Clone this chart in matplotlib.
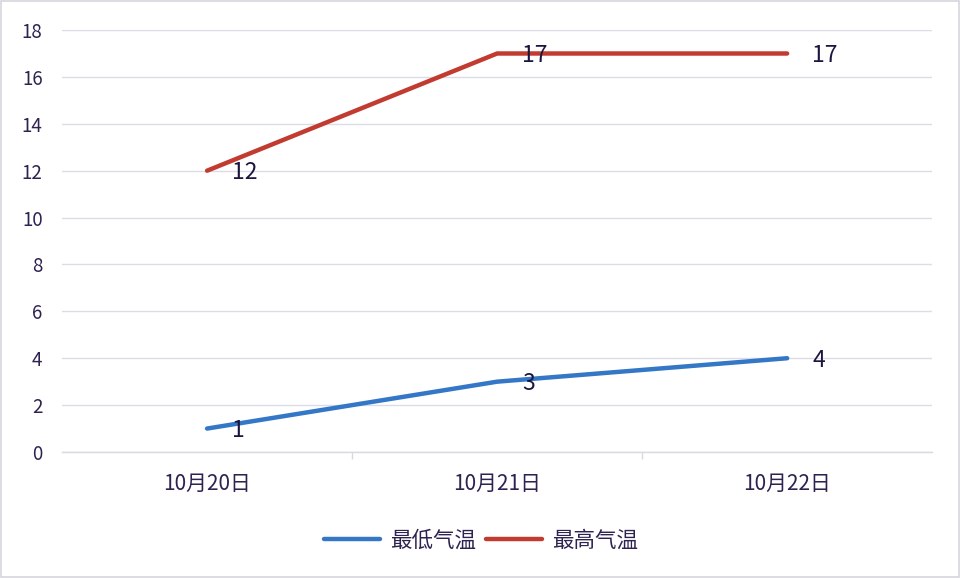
import matplotlib.pyplot as plt
import numpy as np

plt.rcParams['font.family'] = ['Noto Sans CJK SC', 'DejaVu Sans']

dates = ['10月20日', '10月21日', '10月22日']
low_temp = [1, 3, 4]
high_temp = [12, 17, 17]
y_ticks = [0, 2, 4, 6, 8, 10, 12, 14, 16, 18]

txt_col = '#2e2350'
blue = '#3377c6'
red = '#c23b30'

fig = plt.figure(figsize=(9.62, 5.78), dpi=100)
ax = fig.add_axes([0.0645, 0.218, 0.9045, 0.730])
x = np.arange(len(dates))

ax.plot(x, low_temp, color=blue, linewidth=3.2, label='最低气温', solid_capstyle='round')
ax.plot(x, high_temp, color=red, linewidth=3.2, label='最高气温', solid_capstyle='round')

for xi, v in zip(x, low_temp):
    ax.annotate(str(v), (xi, v), xytext=(18, -1.5), textcoords='offset points',
                ha='left', va='center', fontsize=16.5, color='#1a1640')
for xi, v in zip(x, high_temp):
    ax.annotate(str(v), (xi, v), xytext=(18, -1.5), textcoords='offset points',
                ha='left', va='center', fontsize=16.5, color='#1a1640')

ax.set_xlim(-0.5, 2.5)
ax.set_ylim(0, 18)
ax.set_yticks(y_ticks)
ax.set_xticks(x)
ax.set_xticklabels(dates)
ax.set_xticks([0.5, 1.5], minor=True)
ax.tick_params(axis='y', length=0, labelsize=13.5, labelcolor=txt_col, pad=14)
ax.tick_params(axis='x', which='major', length=0, labelsize=15, labelcolor=txt_col, pad=15)
ax.tick_params(axis='x', which='minor', length=5, color='#d9d9e3', width=1)
ax.grid(axis='y', color='#dcdce8', linewidth=1)
for s in ['top', 'right', 'left']:
    ax.spines[s].set_visible(False)
ax.spines['bottom'].set_color('#d9d9e3')
ax.spines['bottom'].set_linewidth(1)
ax.set_axisbelow(True)

fig.legend(loc='center', bbox_to_anchor=(0.5, 0.064), ncol=2, frameon=False,
           fontsize=15.5, handlelength=2.6, columnspacing=0.5, handletextpad=0.45,
           labelcolor=txt_col)

fig.patches.append(plt.Rectangle((0.001, 0.002), 0.996, 0.996, transform=fig.transFigure,
                                 fill=False, edgecolor='#d5d5dd', linewidth=1.2))

fig.savefig('out.png', dpi=100)
